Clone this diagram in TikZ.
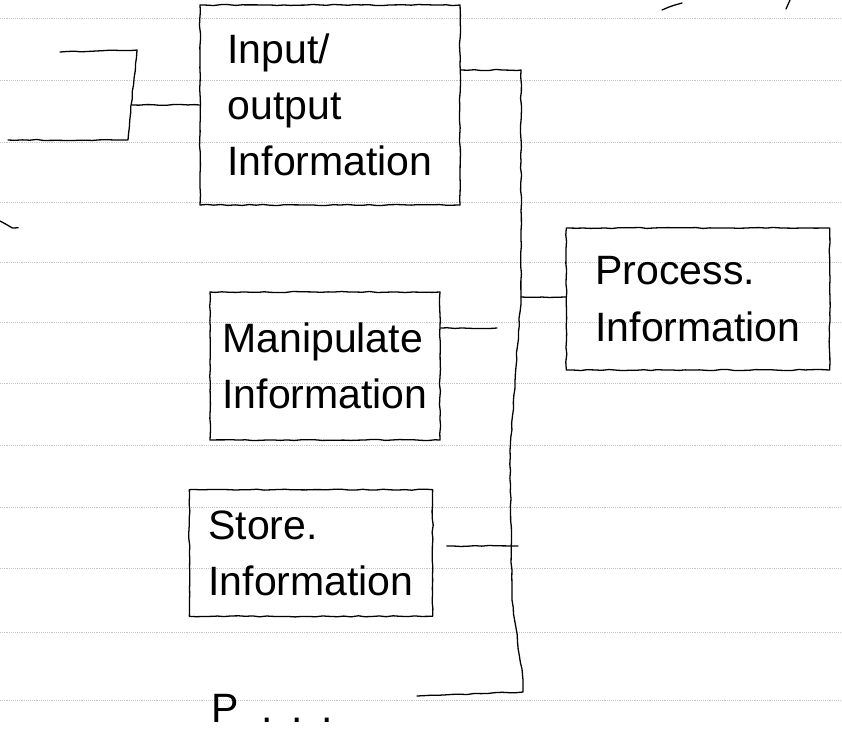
\documentclass[tikz,border=0pt]{standalone}
\usepackage{fontspec}
\setmainfont{Liberation Sans}
\usetikzlibrary{decorations.pathmorphing}
\usetikzlibrary{positioning}

\begin{document}
\begin{tikzpicture}[x=0.03cm,y=-0.03cm]
	\tikzstyle{hand}=[line width=1.1pt,line cap=round,line join=round,decorate,decoration={random steps,segment length=6pt,amplitude=0.5pt}]
	\tikzstyle{infobox}=[hand,draw,rectangle,align=left,inner sep=0pt,font=\fontsize{35}{48}\selectfont]
	\tikzstyle{ruled}=[gray!45,densely dotted,line width=0.6pt]

	\useasboundingbox (0,0) rectangle (842,750);
	\foreach \y in {18,80,142,202,262,322,383,445,507,568,632,700}
		\draw[ruled] (0,\y) -- (842,\y);

	\node [infobox,minimum width=7.8cm,minimum height=6cm]		(io) at (330,105)	{Input/\\output\\Information};
	\node [infobox,minimum width=7.9cm,minimum height=4.26cm]	(pr) at (698,299)	{Process.\\Information};
	\node [infobox,minimum width=6.9cm,minimum height=4.44cm]	(ma) at (325,366)	{Manipulate\\Information};
	\node [infobox,minimum width=7.3cm,minimum height=3.8cm]	(st) at (311,553)	{Store.\\Information};
	\node [font=\fontsize{35}{40}\selectfont]					(etc) at (272,708)	{P\hspace{0.55em}.\hspace{0.45em}.\hspace{0.45em}.};

	\coordinate (brk) at (132,105);
	\coordinate (bustop) at (521,70);
	\coordinate (prjoin) at (521,297);
	\coordinate (majoin) at (497,328);
	\coordinate (stjoin) at (518,546);
	\coordinate (stout) at ([xshift=0.4cm]st.east);
	\coordinate (busend) at (417,696);

	% bracket on the left
	\draw[hand] (60,52) -- (137,50) -- (128,140) -- (8,140);
	\draw[hand] (brk) -- (io.west);

	% bus on the right
	\draw[hand] (io.east |- bustop) -- (bustop) -- (prjoin) -- (510,450) -- (512,600) -- (523,680) -- (523,692) -- (busend);
	\draw[hand] (prjoin) -- (pr.west |- prjoin);
	\draw[hand] (ma.east |- majoin) -- (majoin);
	\draw[hand] (stout |- stjoin) -- (stjoin);

	\draw[hand] (0,221) .. controls (8,226) and (12,229) .. (18,226);
	\draw[hand] (662,10) -- (682,3);
	\draw[hand] (790,0) -- (786,9);
\end{tikzpicture}
\end{document}
